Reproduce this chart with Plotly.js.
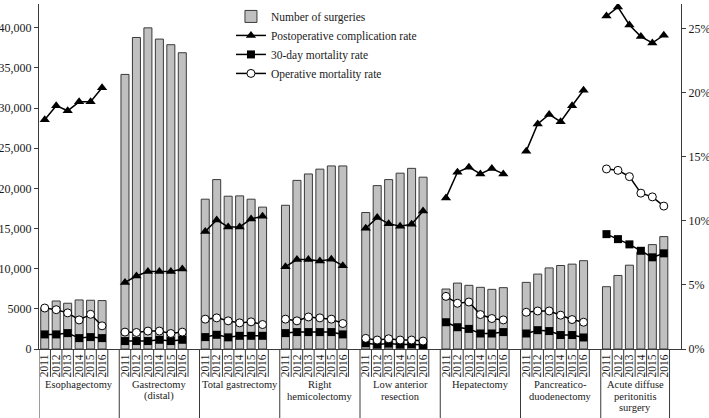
<!DOCTYPE html>
<html><head><meta charset="utf-8">
<script src="https://cdn.plot.ly/plotly-3.0.1.min.js"></script>
<style>html,body{margin:0;padding:0;background:#fff}#chart{width:709px;height:418px}</style>
</head><body><div id="chart"></div>
<script>
const years = ["2011","2012","2013","2014","2015","2016"];
const procedures = [["Esophagectomy"],["Gastrectomy","(distal)"],["Total gastrectomy"],["Right","hemicolectomy"],["Low anterior","resection"],["Hepatectomy"],["Pancreatico-","duodenectomy"],["Acute diffuse","peritonitis","surgery"]];
const surgeries = [
 [5100,5980,5700,6110,6070,6030],
 [34200,38800,40000,38600,37900,36900],
 [18660,21100,19030,19070,18660,17670],
 [17900,21000,21800,22400,22800,22800],
 [17000,20350,21100,21900,22500,21400],
 [7470,8210,7930,7680,7430,7640],
 [8300,9330,10100,10400,10570,11000],
 [7760,9160,10440,12050,13000,14000]
];
const complicationRate = [
 [17.9,19.0,18.6,19.3,19.3,20.4],
 [5.2,5.7,6.05,6.05,6.05,6.25],
 [9.17,10.08,9.53,9.53,10.16,10.36],
 [6.43,6.98,6.98,6.87,7.0,6.51],
 [9.43,10.26,9.79,9.59,9.74,10.78],
 [11.8,13.8,14.2,13.67,14.09,13.67],
 [15.45,17.57,18.32,17.75,18.99,20.2],
 [26.0,26.7,25.3,24.4,23.9,24.5]
];
const mortality30Rate = [
 [1.14,1.14,1.24,0.85,0.93,0.85],
 [0.62,0.62,0.62,0.72,0.62,0.72],
 [0.93,1.11,0.91,1.03,1.03,1.03],
 [1.24,1.32,1.32,1.32,1.32,1.14],
 [0.45,0.35,0.42,0.35,0.38,0.31],
 [2.09,1.7,1.57,1.21,1.21,1.32],
 [1.21,1.47,1.4,1.09,1.09,0.9],
 [8.97,8.58,8.17,7.67,7.16,7.47]
];
const operativeRate = [
 [3.2,3.07,2.82,2.27,2.71,1.81],
 [1.32,1.29,1.4,1.4,1.21,1.32],
 [2.33,2.43,2.2,2.04,2.12,1.91],
 [2.33,2.2,2.5,2.43,2.33,1.99],
 [0.83,0.7,0.8,0.7,0.7,0.62],
 [4.11,3.57,3.67,2.69,2.38,2.27],
 [2.87,2.97,2.97,2.64,2.3,2.09],
 [14.06,13.95,13.46,12.17,11.88,11.16]
];
const leftTicks = [0,5000,10000,15000,20000,25000,30000,35000,40000];
const leftTickText = ["0","5000","10,000","15,000","20,000","25,000","30,000","35,000","40,000"];
const rightTicks = [0,5,10,15,20,25];
const rightTickText = ["0%","5%","10%","15%","20%","25%"];

const FONT = "Liberation Serif, Times New Roman, serif";
const slots = years.length + 1;
const nG = procedures.length;
const xs = [], bars = [], comp = [], m30 = [], op = [], tickv = [], tickt = [];
procedures.forEach((p, g) => {
  years.forEach((yr, i) => {
    const x = g * slots + i;
    xs.push(x); bars.push(surgeries[g][i]); comp.push(complicationRate[g][i]);
    m30.push(mortality30Rate[g][i]); op.push(operativeRate[g][i]);
    tickv.push(x); tickt.push(yr);
  });
  xs.push(g * slots + years.length); bars.push(null); comp.push(null); m30.push(null); op.push(null);
});

const lineStyle = {color: "#000", width: 1.5};
const traces = [
  {type: "bar", name: "Number of surgeries", x: xs, y: bars, yaxis: "y",
   marker: {color: "#c0c0c0", line: {color: "#3a3a3a", width: 1}}},
  {type: "scatter", mode: "lines+markers", name: "Postoperative complication rate", x: xs, y: comp, yaxis: "y2",
   line: lineStyle, marker: {symbol: "triangle-up", size: 9, color: "#000"}},
  {type: "scatter", mode: "lines+markers", name: "30-day mortality rate", x: xs, y: m30, yaxis: "y2",
   line: lineStyle, marker: {symbol: "square", size: 8, color: "#000"}},
  {type: "scatter", mode: "lines+markers", name: "Operative mortality rate", x: xs, y: op, yaxis: "y2",
   line: lineStyle, marker: {symbol: "circle", size: 8, color: "#fff", line: {color: "#000", width: 1}}}
];

const plotH = 418 - 2 - 69;
const pY = px => -(px - 349) / plotH; // pixel row below axis -> paper y
const shapes = [];
const annotations = [];
for (let g = 0; g < nG; g++) {
  const start = g * slots - 0.5;
  const end = g < nG - 1 ? (g + 1) * slots - 0.5 : g * slots + years.length - 0.5;
  shapes.push({type: "line", xref: "x", yref: "paper", x0: start, x1: start, y0: 0, y1: pY(420), line: {color: "#3a3a3a", width: 1}});
  for (let i = 1; i <= years.length; i++) {
    const b = g * slots + i - 0.5;
    const isEnd = (g === nG - 1 && i === years.length);
    shapes.push({type: "line", xref: "x", yref: "paper", x0: b, x1: b, y0: 0, y1: isEnd ? pY(420) : pY(377), line: {color: "#3a3a3a", width: 1}});
  }
  const cx = (start + end) / 2;
  procedures[g].forEach((t, li) => {
    annotations.push({text: t, xref: "x", yref: "paper", x: cx, y: pY(385 + li * 11.5), xanchor: "center", yanchor: "middle",
      showarrow: false, font: {family: FONT, size: 10.5, color: "#1a1a1a"}});
  });
}

const layout = {
  width: 709, height: 418,
  margin: {l: 39, r: 28, t: 2, b: 69},
  paper_bgcolor: "#fff", plot_bgcolor: "#fff",
  font: {family: FONT, size: 12, color: "#1a1a1a"},
  bargap: 0.3,
  showlegend: true,
  legend: {x: 0.299, y: 1.006, xanchor: "left", yanchor: "top", bgcolor: "rgba(0,0,0,0)",
    font: {family: FONT, size: 11.5, color: "#1a1a1a"}, itemwidth: 30, tracegroupgap: 0},
  xaxis: {range: [-0.5, nG * slots - 0.5], tickvals: tickv, ticktext: tickt, tickangle: -90,
    ticks: "", showgrid: false, zeroline: false, showline: true, linecolor: "#3a3a3a", linewidth: 1,
    tickfont: {family: FONT, size: 11.5, color: "#1a1a1a"}, fixedrange: true},
  yaxis: {range: [0, 42970], tickvals: leftTicks, ticktext: leftTickText, ticks: "outside", ticklen: 4,
    tickcolor: "#3a3a3a", showgrid: false, zeroline: false, showline: true, linecolor: "#3a3a3a", linewidth: 1,
    tickfont: {family: FONT, size: 12, color: "#1a1a1a"}},
  yaxis2: {overlaying: "y", side: "right", range: [0, 26.94], tickvals: rightTicks, ticktext: rightTickText,
    ticks: "outside", ticklen: 4, tickcolor: "#3a3a3a", showgrid: false, zeroline: false, showline: true,
    linecolor: "#3a3a3a", linewidth: 1, tickfont: {family: FONT, size: 12, color: "#1a1a1a"}},
  shapes: shapes,
  annotations: annotations
};
Plotly.newPlot("chart", traces, layout, {displayModeBar: false, staticPlot: true});
</script>
</body></html>
